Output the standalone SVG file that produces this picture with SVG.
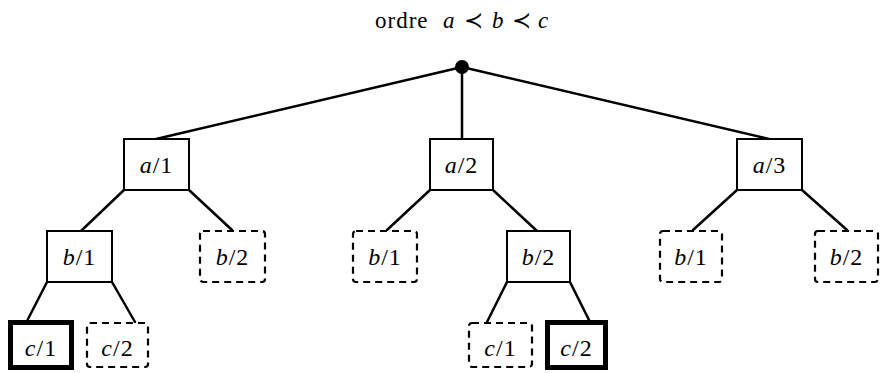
<svg xmlns="http://www.w3.org/2000/svg" width="884" height="373" viewBox="0 0 884 373">
<style>
.box{fill:#fff;stroke:#000;stroke-width:2}
.dash{fill:#fff;stroke:#000;stroke-width:2.2;stroke-dasharray:7,5}
.thick{fill:#fff;stroke:#000;stroke-width:5}
.lbl{font-size:24px;text-anchor:middle;fill:#000;letter-spacing:1px}
.it{font-style:italic}
.edge{stroke:#000;stroke-width:2.5;fill:none;stroke-linecap:round}
.title{font-size:23px;fill:#000;letter-spacing:1px}
</style>
<rect width="884" height="373" fill="#fff"/>
<g font-family="'Liberation Serif','DejaVu Serif','Times New Roman',serif">
<g id="title">
<text class="title" y="28"><tspan x="375">ordre</tspan><tspan x="443" font-style="italic">a</tspan><tspan x="464">≺</tspan><tspan x="492" font-style="italic">b</tspan><tspan x="512">≺</tspan><tspan x="538" font-style="italic">c</tspan></text>
</g>
<g id="connectors">
<line class="edge" x1="462" y1="67" x2="156" y2="139"/>
<line class="edge" x1="462" y1="67" x2="462" y2="139"/>
<line class="edge" x1="462" y1="67" x2="769" y2="139"/>
<line class="edge" x1="124" y1="190" x2="81" y2="231"/>
<line class="edge" x1="189" y1="190" x2="232" y2="230"/>
<line class="edge" x1="430" y1="190" x2="387" y2="230"/>
<line class="edge" x1="493" y1="190" x2="537" y2="231"/>
<line class="edge" x1="737" y1="190" x2="693" y2="230"/>
<line class="edge" x1="802" y1="190" x2="847" y2="230"/>
<line class="edge" x1="47" y1="282" x2="27" y2="321"/>
<line class="edge" x1="112" y1="282" x2="135" y2="322"/>
<line class="edge" x1="507" y1="282" x2="487" y2="322"/>
<line class="edge" x1="570" y1="282" x2="590" y2="322"/>
</g>
<g id="root"><circle cx="462" cy="67" r="7" fill="#000"/></g>
<g id="a1"><rect class="box" x="124" y="139" width="65" height="51"/><text class="lbl" x="156.5" y="173"><tspan class="it">a</tspan>/1</text></g>
<g id="a2"><rect class="box" x="430" y="139" width="63" height="51"/><text class="lbl" x="461.5" y="173"><tspan class="it">a</tspan>/2</text></g>
<g id="a3"><rect class="box" x="737" y="139" width="65" height="51"/><text class="lbl" x="769.5" y="173"><tspan class="it">a</tspan>/3</text></g>
<g id="a1-b1"><rect class="box" x="47" y="231" width="65" height="51"/><text class="lbl" x="79.5" y="265"><tspan class="it">b</tspan>/1</text></g>
<g id="a1-b2"><rect class="dash" x="200" y="231" width="65" height="51" rx="3"/><text class="lbl" x="232.5" y="265"><tspan class="it">b</tspan>/2</text></g>
<g id="a2-b1"><rect class="dash" x="353" y="231" width="64" height="51" rx="3"/><text class="lbl" x="385" y="265"><tspan class="it">b</tspan>/1</text></g>
<g id="a2-b2"><rect class="box" x="507" y="231" width="63" height="51"/><text class="lbl" x="538.5" y="265"><tspan class="it">b</tspan>/2</text></g>
<g id="a3-b1"><rect class="dash" x="660" y="231" width="62" height="51" rx="3"/><text class="lbl" x="691" y="265"><tspan class="it">b</tspan>/1</text></g>
<g id="a3-b2"><rect class="dash" x="815" y="231" width="63" height="51" rx="3"/><text class="lbl" x="846.5" y="265"><tspan class="it">b</tspan>/2</text></g>
<g id="a1-b1-c1"><rect class="thick" x="10.5" y="322.5" width="61" height="45"/><text class="lbl" x="41" y="356"><tspan class="it">c</tspan>/1</text></g>
<g id="a1-b1-c2"><rect class="dash" x="87" y="323" width="61" height="44" rx="3"/><text class="lbl" x="117.5" y="356"><tspan class="it">c</tspan>/2</text></g>
<g id="a2-b2-c1"><rect class="dash" x="469" y="323" width="63" height="44" rx="3"/><text class="lbl" x="500.5" y="356"><tspan class="it">c</tspan>/1</text></g>
<g id="a2-b2-c2"><rect class="thick" x="547.5" y="322.5" width="58" height="45"/><text class="lbl" x="576.5" y="356"><tspan class="it">c</tspan>/2</text></g>
</g>
</svg>
